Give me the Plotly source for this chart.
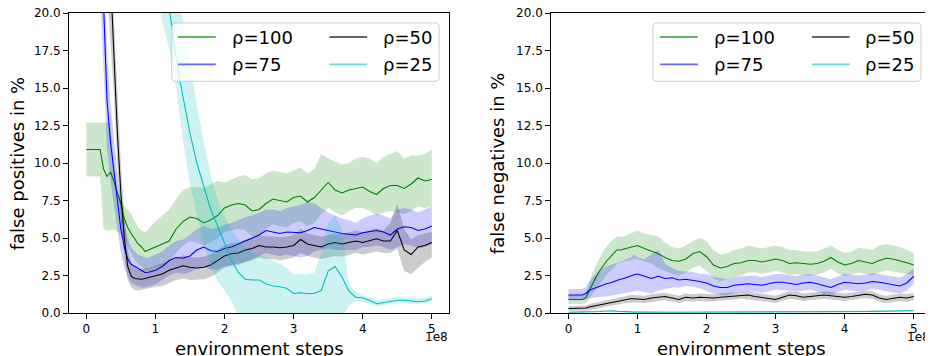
import plotly.graph_objects as go

# environment steps, in units of 1e8
STEPS = [0.0, 0.05, 0.1, 0.15, 0.2, 0.25, 0.3, 0.35, 0.4, 0.45, 0.5, 0.55, 0.6, 0.65, 0.7, 0.75, 0.8, 0.85, 0.9, 0.95, 1.0,
         1.1, 1.2, 1.3, 1.4, 1.5, 1.6, 1.7, 1.8, 1.9, 2.0,
         2.1, 2.2, 2.3, 2.4, 2.5, 2.6, 2.7, 2.8, 2.9, 3.0,
         3.1, 3.2, 3.3, 3.4, 3.5, 3.6, 3.7, 3.8, 3.9, 4.0,
         4.1, 4.2, 4.3, 4.4, 4.5, 4.6, 4.7, 4.8, 4.9, 5.0]

LABELS = ["ρ=100", "ρ=75", "ρ=50", "ρ=25"]
X_TICKS = [0, 1, 2, 3, 4, 5]
Y_TICKS = [0.0, 2.5, 5.0, 7.5, 10.0, 12.5, 15.0, 17.5, 20.0]

# ---------------- false positives (left) ----------------
fp100_mean = [10.9, 10.9, 10.9, 10.9, 10.9, 9.6, 9.1, 9.4, 8.8, 8.0, 7.3, 6.3, 5.7, 5.3, 4.9, 4.6, 4.4, 4.1, 4.2, 4.3, 4.4,
              4.6, 4.8, 5.6, 6.1, 6.4, 6.3, 6.0, 6.2, 6.5, 7.0,
              7.2, 7.3, 7.2, 6.8, 6.9, 7.3, 7.6, 7.5, 7.4, 7.7,
              7.8, 7.4, 7.7, 8.2, 8.7, 8.2, 8.0, 8.2, 8.3, 8.4,
              8.1, 7.9, 8.3, 8.5, 8.5, 8.3, 8.6, 9.0, 8.8, 8.9]
fp100_lo = [9.1, 9.1, 9.1, 9.1, 9.1, 5.6, 5.5, 5.5, 5.6, 5.4, 5.3, 4.9, 4.4, 4.0, 3.6, 3.3, 3.1, 2.9, 2.9, 3.0, 3.1,
            3.2, 3.4, 4.0, 4.5, 4.8, 4.7, 4.5, 4.7, 5.0, 5.4,
            5.5, 5.6, 5.5, 5.1, 5.2, 5.6, 5.9, 5.8, 5.7, 6.0,
            6.1, 5.8, 6.0, 6.6, 7.0, 6.7, 6.5, 6.8, 7.0, 7.0,
            6.8, 6.5, 6.7, 6.8, 6.7, 6.6, 6.8, 7.1, 7.0, 7.1]
fp100_hi = [12.7, 12.7, 12.7, 12.7, 12.7, 12.7, 12.7, 12.7, 10.0, 8.2, 7.5, 7.1, 6.9, 6.6, 6.1, 5.7, 5.5, 5.4, 5.6, 5.9, 6.1,
            6.5, 6.9, 7.6, 8.2, 8.4, 8.4, 8.3, 8.6, 8.8, 8.7,
            8.9, 9.1, 9.2, 8.9, 9.0, 9.3, 9.5, 9.4, 9.3, 9.5,
            9.7, 9.3, 9.6, 10.6, 10.3, 10.1, 9.9, 10.0, 10.3, 10.4,
            10.3, 10.0, 10.4, 10.6, 10.8, 10.3, 10.5, 10.5, 10.6, 10.9]

fp75_mean = [45, 42, 38, 33, 27, 21, 14.2, 11.4, 9.4, 7.3, 5.6, 4.4, 3.6, 3.25, 3.1, 2.95, 2.8, 2.7, 2.72, 2.8, 2.85,
             3.1, 3.5, 3.7, 3.65, 3.8, 4.2, 4.4, 4.15, 4.1, 4.3,
             4.4, 4.6, 4.8, 5.0, 5.2, 5.5, 5.4, 5.3, 5.4, 5.4,
             5.35, 5.5, 5.7, 5.6, 5.5, 5.35, 5.3, 5.25, 5.2, 5.35,
             5.4, 5.5, 5.4, 5.2, 5.6, 5.75, 5.7, 5.5, 5.6, 5.8]
fp75_lo = [42, 39, 35, 30, 24, 18, 11.0, 8.8, 7.3, 5.5, 4.0, 3.0, 2.4, 2.0, 1.9, 1.8, 1.7, 1.7, 1.75, 1.85, 1.9,
           2.2, 2.5, 2.7, 2.6, 2.7, 3.0, 3.1, 2.9, 2.9, 3.1,
           3.2, 3.3, 3.4, 3.6, 3.8, 4.0, 3.9, 3.8, 3.9, 3.8,
           3.7, 3.8, 4.1, 4.2, 4.3, 4.2, 4.2, 4.2, 4.2, 4.4,
           4.4, 4.5, 4.4, 4.2, 4.4, 4.6, 4.5, 4.3, 4.4, 4.6]
fp75_hi = [48, 45, 41, 36, 30, 24, 17.5, 14.0, 11.5, 9.3, 7.4, 6.0, 5.0, 4.4, 4.1, 3.9, 3.8, 3.7, 3.7, 3.8, 3.9,
           4.1, 4.5, 4.8, 4.9, 5.2, 5.6, 5.8, 5.6, 5.7, 5.9,
           6.0, 6.2, 6.4, 6.5, 6.7, 6.9, 6.9, 6.8, 7.0, 7.1,
           7.2, 7.4, 7.3, 7.0, 6.7, 6.5, 6.3, 6.2, 6.0, 6.3,
           6.5, 6.6, 6.5, 6.3, 6.9, 7.0, 6.9, 6.7, 6.9, 7.1]

fp50_mean = [45, 43, 40, 36, 32, 29, 27, 22.5, 17.0, 12.0, 8.0, 5.0, 3.1, 2.45, 2.3, 2.25, 2.25, 2.3, 2.35, 2.4, 2.45,
             2.6, 2.85, 3.0, 3.15, 3.05, 3.0, 3.05, 3.2, 3.5, 3.8,
             3.95, 4.0, 4.2, 4.3, 4.5, 4.4, 4.4, 4.35, 4.4, 4.5,
             4.9, 4.6, 4.5, 4.4, 4.6, 4.7, 4.6, 4.7, 4.8, 4.7,
             4.8, 4.95, 4.8, 4.8, 5.5, 4.2, 3.9, 4.4, 4.5, 4.7]
fp50_lo = [43, 41, 38, 34, 30, 27, 24, 19.5, 14.5, 9.8, 6.2, 3.8, 2.2, 1.7, 1.55, 1.5, 1.5, 1.6, 1.65, 1.7, 1.75,
           1.8, 2.0, 2.2, 2.3, 2.2, 2.2, 2.25, 2.4, 2.7, 3.0,
           3.15, 3.2, 3.4, 3.5, 3.7, 3.6, 3.6, 3.5, 3.6, 3.7,
           4.0, 3.8, 3.7, 3.6, 3.7, 3.8, 3.75, 3.9, 4.0, 3.9,
           4.0, 4.1, 4.0, 4.0, 4.3, 2.8, 2.6, 3.0, 3.4, 3.7]
fp50_hi = [47, 45, 42, 38, 34, 31, 30, 25.5, 19.5, 14.2, 10.0, 6.5, 4.2, 3.3, 3.0, 2.9, 2.9, 2.95, 3.0, 3.1, 3.15,
           3.3, 3.5, 3.7, 3.85, 3.75, 3.7, 3.75, 3.9, 4.2, 4.5,
           4.65, 4.7, 4.9, 5.0, 5.2, 5.1, 5.1, 5.05, 5.1, 5.2,
           5.6, 5.3, 5.2, 5.1, 5.2, 5.3, 5.25, 5.4, 5.5, 5.4,
           5.5, 5.65, 5.5, 6.0, 7.3, 5.6, 4.9, 5.2, 5.3, 5.4]

fp25_mean = [48, 47, 46, 45, 44, 43, 42, 41, 40, 39, 38, 37, 36, 35, 34, 33, 31.5, 30.5, 29, 27.5, 26.0,
             23.5, 20.3, 17.0, 14.4, 12.0, 10.0, 8.4, 6.9, 5.8, 4.6,
             3.5, 2.7, 2.25, 2.2, 2.2, 1.95, 1.8, 1.75, 1.65, 1.3,
             1.35, 1.3, 1.3, 1.5, 2.8, 3.1, 2.4, 1.45, 1.05, 1.0,
             0.85, 0.62, 0.7, 0.8, 0.85, 0.85, 0.82, 0.75, 0.8, 0.95]
fp25_lo = [44, 43, 42, 41, 40, 39, 38, 37, 36, 35, 34, 33, 32, 31, 30, 29, 27.5, 26, 24.5, 23, 21.5,
           19.4, 17.6, 15.0, 11.5, 8.6, 6.5, 4.7, 3.1, 2.1, 1.5,
           0.8, -0.1, -0.6, -0.8, -0.9, -1.0, -1.0, -1.1, -1.1, -1.2,
           -1.2, -1.2, -1.2, -1.0, -0.6, -0.5, -0.4, 0.5, 0.8, 0.75,
           0.65, 0.45, 0.5, 0.6, 0.65, 0.65, 0.65, 0.6, 0.65, 0.8]
fp25_hi = [52, 51, 50, 49, 48, 47, 46, 45, 44, 43, 42, 41, 40, 39, 38, 37, 35.5, 34, 33, 31.8, 30.5,
           28.0, 25.5, 22.5, 19.5, 16.5, 13.8, 11.4, 9.2, 7.6, 6.5,
           5.6, 4.9, 4.3, 4.0, 3.9, 3.7, 3.5, 3.3, 3.0, 2.6,
           2.6, 2.6, 2.7, 4.0, 6.0, 6.5, 5.5, 2.0, 1.4, 1.2,
           1.05, 0.85, 0.9, 1.0, 1.05, 1.05, 1.0, 0.95, 1.0, 1.15]

# ---------------- false negatives (right) ----------------
fn100_mean = [0.9, 0.9, 0.9, 0.9, 0.9, 1.0, 1.5, 2.0, 2.4, 2.8, 3.15, 3.45, 3.7, 3.95, 4.2, 4.2, 4.25, 4.3, 4.4, 4.45, 4.5,
              4.3, 4.15, 3.95, 3.7, 3.5, 3.45, 3.6, 3.95, 4.1, 3.75,
              3.2, 3.0, 3.1, 3.3, 3.35, 3.5, 3.5, 3.4, 3.5, 3.6,
              3.5, 3.3, 3.35, 3.3, 3.25, 3.3, 3.45, 3.7, 3.4, 3.2,
              3.3, 3.5, 3.4, 3.3, 3.5, 3.65, 3.6, 3.5, 3.35, 3.2]
fn100_lo = [0.6, 0.6, 0.6, 0.6, 0.6, 0.65, 0.9, 1.3, 1.6, 1.9, 2.2, 2.5, 2.8, 3.0, 3.3, 3.35, 3.4, 3.5, 3.55, 3.6, 3.6,
            3.45, 3.3, 3.0, 2.8, 2.6, 2.5, 2.7, 3.0, 3.15, 2.8,
            2.3, 2.1, 2.25, 2.4, 2.5, 2.7, 2.7, 2.6, 2.7, 2.8,
            2.7, 2.55, 2.6, 2.5, 2.5, 2.55, 2.7, 2.95, 2.65, 2.45,
            2.55, 2.7, 2.6, 2.5, 2.7, 2.85, 2.8, 2.7, 2.6, 2.5]
fn100_hi = [1.2, 1.2, 1.2, 1.2, 1.2, 1.35, 2.1, 2.7, 3.2, 3.7, 4.1, 4.4, 4.7, 4.9, 5.1, 5.1, 5.1, 5.2, 5.3, 5.4, 5.5,
            5.3, 5.2, 5.1, 4.7, 4.4, 4.3, 4.5, 4.8, 5.0, 4.8,
            4.2, 3.9, 4.0, 4.2, 4.3, 4.5, 4.4, 4.3, 4.4, 4.5,
            4.4, 4.2, 4.2, 4.1, 4.1, 4.1, 4.3, 4.5, 4.2, 4.0,
            4.1, 4.35, 4.3, 4.2, 4.5, 4.6, 4.5, 4.4, 4.2, 4.0]

fn75_mean = [1.2, 1.2, 1.2, 1.2, 1.2, 1.3, 1.5, 1.6, 1.7, 1.75, 1.85, 1.95, 2.0, 2.1, 2.2, 2.25, 2.3, 2.4, 2.5, 2.55, 2.6,
             2.45, 2.3, 2.45, 2.3, 2.35, 2.2, 2.25, 2.2, 2.1, 2.0,
             1.8, 1.7, 1.7, 1.85, 1.9, 1.95, 1.9, 1.85, 1.95, 2.05,
             2.05, 2.0, 1.9, 2.0, 2.05, 1.95, 1.8, 1.7, 1.9, 2.05,
             2.0, 1.95, 2.0, 2.1, 2.05, 1.95, 1.85, 1.8, 2.0, 2.45]
fn75_lo = [0.85, 0.85, 0.85, 0.85, 0.85, 0.9, 1.0, 1.0, 1.05, 1.05, 1.1, 1.1, 1.15, 1.2, 1.2, 1.25, 1.3, 1.35, 1.4, 1.45, 1.5,
           1.4, 1.3, 1.5, 1.6, 1.7, 1.7, 1.8, 1.75, 1.65, 1.5,
           1.3, 1.2, 1.2, 1.35, 1.4, 1.45, 1.4, 1.35, 1.45, 1.55,
           1.55, 1.5, 1.4, 1.5, 1.55, 1.45, 1.3, 1.2, 1.4, 1.55,
           1.5, 1.45, 1.5, 1.6, 1.55, 1.45, 1.35, 1.3, 1.5, 1.95]
fn75_hi = [1.6, 1.6, 1.6, 1.6, 1.6, 1.7, 2.1, 2.4, 2.6, 2.8, 3.0, 3.1, 3.2, 3.3, 3.35, 3.4, 3.5, 3.6, 3.7, 3.9, 3.7,
           3.6, 3.9, 4.2, 3.3, 3.0, 2.8, 2.8, 2.75, 2.6, 2.6,
           2.4, 2.3, 2.25, 2.4, 2.45, 2.5, 2.5, 2.4, 2.5, 2.6,
           2.6, 2.55, 2.45, 2.55, 2.6, 2.5, 2.35, 2.25, 2.45, 2.6,
           2.55, 2.5, 2.55, 2.65, 2.6, 2.5, 2.4, 2.35, 2.6, 3.0]

fn50_mean = [0.3, 0.3, 0.3, 0.3, 0.3, 0.33, 0.4, 0.45, 0.5, 0.55, 0.6, 0.65, 0.7, 0.75, 0.8, 0.85, 0.9, 0.95, 0.95, 0.95, 0.95,
             0.9, 1.0, 1.05, 1.1, 1.0, 0.9, 1.05, 1.0, 1.05, 1.0,
             1.0, 1.05, 1.1, 1.15, 1.2, 1.2, 1.1, 1.05, 1.0, 0.9,
             1.05, 1.2, 1.15, 1.05, 1.1, 1.15, 1.2, 1.15, 1.1, 1.05,
             1.1, 1.2, 1.25, 1.2, 1.0, 0.9, 1.0, 1.05, 1.0, 1.1]
fn50_lo = [0.15, 0.15, 0.15, 0.15, 0.15, 0.15, 0.2, 0.25, 0.3, 0.35, 0.4, 0.45, 0.5, 0.5, 0.55, 0.6, 0.65, 0.7, 0.7, 0.7, 0.7,
           0.65, 0.75, 0.8, 0.85, 0.75, 0.65, 0.8, 0.75, 0.8, 0.75,
           0.75, 0.8, 0.85, 0.9, 0.95, 0.95, 0.85, 0.8, 0.75, 0.65,
           0.8, 0.95, 0.9, 0.8, 0.85, 0.9, 0.95, 0.9, 0.85, 0.8,
           0.85, 0.95, 1.0, 0.95, 0.75, 0.65, 0.75, 0.8, 0.75, 0.85]
fn50_hi = [0.45, 0.45, 0.45, 0.45, 0.45, 0.5, 0.6, 0.65, 0.7, 0.75, 0.8, 0.85, 0.9, 1.0, 1.05, 1.1, 1.15, 1.2, 1.2, 1.2, 1.2,
           1.15, 1.25, 1.3, 1.35, 1.25, 1.15, 1.3, 1.25, 1.3, 1.25,
           1.25, 1.3, 1.35, 1.4, 1.45, 1.45, 1.35, 1.3, 1.25, 1.15,
           1.3, 1.45, 1.4, 1.3, 1.35, 1.4, 1.45, 1.4, 1.35, 1.3,
           1.35, 1.45, 1.5, 1.45, 1.25, 1.15, 1.25, 1.3, 1.25, 1.35]

fn25_mean = [0.05, 0.05, 0.05, 0.05, 0.05, 0.05, 0.06, 0.07, 0.08, 0.1, 0.12, 0.14, 0.15, 0.15, 0.12, 0.1, 0.08, 0.07, 0.06, 0.06, 0.06,
             0.05, 0.05, 0.05, 0.05, 0.05, 0.05, 0.05, 0.05, 0.05, 0.05,
             0.07, 0.08, 0.08, 0.09, 0.1, 0.1, 0.09, 0.08, 0.08, 0.08,
             0.08, 0.07, 0.07, 0.08, 0.08, 0.09, 0.09, 0.1, 0.1, 0.1,
             0.1, 0.1, 0.1, 0.11, 0.11, 0.12, 0.12, 0.13, 0.14, 0.15]
fn25_lo = [0.0, 0.0, 0.0, 0.0, 0.0, 0.0, 0.01, 0.02, 0.03, 0.05, 0.07, 0.09, 0.1, 0.1, 0.07, 0.05, 0.03, 0.02, 0.01, 0.01, 0.01,
           0.0, 0.0, 0.0, 0.0, 0.0, 0.0, 0.0, 0.0, 0.0, 0.0,
           0.02, 0.03, 0.03, 0.04, 0.05, 0.05, 0.04, 0.03, 0.03, 0.03,
           0.03, 0.02, 0.02, 0.03, 0.03, 0.04, 0.04, 0.05, 0.05, 0.05,
           0.05, 0.05, 0.05, 0.06, 0.06, 0.07, 0.07, 0.08, 0.09, 0.1]
fn25_hi = [0.1, 0.1, 0.1, 0.1, 0.1, 0.1, 0.11, 0.12, 0.13, 0.15, 0.17, 0.19, 0.2, 0.2, 0.17, 0.15, 0.13, 0.12, 0.11, 0.11, 0.11,
           0.1, 0.1, 0.1, 0.1, 0.1, 0.1, 0.1, 0.1, 0.1, 0.1,
           0.12, 0.13, 0.13, 0.14, 0.15, 0.15, 0.14, 0.13, 0.13, 0.13,
           0.13, 0.12, 0.12, 0.13, 0.13, 0.14, 0.14, 0.15, 0.15, 0.15,
           0.15, 0.15, 0.15, 0.16, 0.16, 0.17, 0.17, 0.18, 0.19, 0.2]

COLORS = [(0, 128, 0), (0, 0, 255), (0, 0, 0), (0, 191, 191)]

# ---------------- layout geometry ----------------
# The page body has an 8 px margin, so the figure itself starts at (8, 8) of the page.
OFF = 8
W, H = 933 - OFF, 356 - OFF
ML, MR, MT, MB = 69 - OFF, 2.3, 12.7 - OFF, 43.3
PW = W - ML - MR
PH = H - MT - MB


def px(x):
    # page pixel x -> paper coordinate
    return (x - OFF - ML) / PW


def py(y):
    # page pixel y -> paper coordinate
    return (H - MB - (y - OFF)) / PH


def rgba(c, a):
    return "rgba(%d,%d,%d,%s)" % (c[0], c[1], c[2], a)


fig = go.Figure()

panels = [
    ("x", "y", [(fp100_mean, fp100_lo, fp100_hi), (fp75_mean, fp75_lo, fp75_hi),
                (fp50_mean, fp50_lo, fp50_hi), (fp25_mean, fp25_lo, fp25_hi)]),
    ("x2", "y2", [(fn100_mean, fn100_lo, fn100_hi), (fn75_mean, fn75_lo, fn75_hi),
                  (fn50_mean, fn50_lo, fn50_hi), (fn25_mean, fn25_lo, fn25_hi)]),
]

for xa, ya, series in panels:
    for (mean, lo, hi), col, lab in zip(series, COLORS, LABELS):
        fig.add_trace(go.Scatter(
            x=STEPS + STEPS[::-1], y=hi + lo[::-1], xaxis=xa, yaxis=ya,
            fill="toself", fillcolor=rgba(col, 0.2), line=dict(width=0),
            mode="lines", showlegend=False, hoverinfo="skip"))
        fig.add_trace(go.Scatter(
            x=STEPS, y=mean, xaxis=xa, yaxis=ya, mode="lines", name=lab,
            line=dict(color=rgba(col, 1), width=1.1), showlegend=False))

FONT = "DejaVu Sans"
axis_common = dict(
    showline=True, linecolor="black", linewidth=1, mirror=True,
    ticks="outside", ticklen=5, tickwidth=1, tickcolor="black",
    showgrid=False, zeroline=False, automargin=False, ticklabeloverflow="allow",
    tickfont=dict(family=FONT, size=12, color="black"),
)

dom_left = [0, px(449)]
dom_right = [px(551), 1]

fig.update_layout(
    template="none",
    width=W, height=H,
    margin=dict(l=ML, r=MR, t=MT, b=MB, pad=0, autoexpand=False),
    paper_bgcolor="white", plot_bgcolor="white",
    font=dict(family=FONT, color="black"),
    xaxis=dict(domain=dom_left, range=[-0.25, 5.25], tickvals=X_TICKS, ticktext=[str(v) for v in X_TICKS],
               anchor="y", **axis_common),
    yaxis=dict(domain=[0, 1], range=[0, 20], tickvals=Y_TICKS, ticktext=["%.1f" % v for v in Y_TICKS],
               anchor="x", **axis_common),
    xaxis2=dict(domain=dom_right, range=[-0.25, 5.25], tickvals=X_TICKS, ticktext=[str(v) for v in X_TICKS],
                anchor="y2", **axis_common),
    yaxis2=dict(domain=[0, 1], range=[0, 20], tickvals=Y_TICKS, ticktext=["%.1f" % v for v in Y_TICKS],
                anchor="x2", **axis_common),
    showlegend=False,
)


def rounded_box(x0, y0, x1, y1, r=4):
    # pixel box -> paper path with rounded corners
    X0, X1 = px(x0), px(x1)
    Y0, Y1 = py(y0), py(y1)
    rx = r / PW
    ry = r / PH
    return ("M %f,%f L %f,%f Q %f,%f %f,%f L %f,%f Q %f,%f %f,%f L %f,%f Q %f,%f %f,%f L %f,%f Q %f,%f %f,%f Z" % (
        X0 + rx, Y0, X1 - rx, Y0, X1, Y0, X1, Y0 - ry,
        X1, Y1 + ry, X1, Y1, X1 - rx, Y1,
        X0 + rx, Y1, X0, Y1, X0, Y1 + ry,
        X0, Y0 - ry, X0, Y0, X0 + rx, Y0))


shapes = []
ann = []
# legend boxes: (box x0, box x1, column-1 line start, column-2 line start)
for (bx0, bx1, c1, c2) in [(171.7, 439, 178, 329.3), (652.7, 920.7, 660, 811.7)]:
    shapes.append(dict(type="path", xref="paper", yref="paper", path=rounded_box(bx0, 22.7, bx1, 81),
                       fillcolor="rgba(255,255,255,0.8)", line=dict(color="rgb(204,204,204)", width=1),
                       layer="above"))
    slots = [(c1, 36.7), (c1, 64.0), (c2, 36.7), (c2, 64.0)]
    for (lx, ly), lab, col in zip(slots, LABELS, COLORS):
        shapes.append(dict(type="line", xref="paper", yref="paper",
                           x0=px(lx), x1=px(lx + 37.7), y0=py(ly), y1=py(ly),
                           line=dict(color=rgba(col, 0.6), width=1.8), layer="above"))
        ann.append(dict(x=px(lx + 51.5), y=py(ly + 0.5), xref="paper", yref="paper", text=lab,
                        showarrow=False, xanchor="left", yanchor="middle",
                        font=dict(family=FONT, size=18, color="black")))
fig.update_layout(shapes=shapes)

for cx, title in [(259, "environment steps"), (741, "environment steps")]:
    ann.append(dict(x=px(cx), y=py(348.5), xref="paper", yref="paper", text=title, showarrow=False,
                    xanchor="center", yanchor="middle", font=dict(family=FONT, size=18, color="black")))
for cx, title in [(17, "false positives in %"), (496.7, "false negatives in %")]:
    ann.append(dict(x=px(cx), y=py(163), xref="paper", yref="paper", text=title, showarrow=False,
                    textangle=-90, xanchor="center", yanchor="middle",
                    font=dict(family=FONT, size=18, color="black")))
for cx in [436, 918]:
    ann.append(dict(x=px(cx), y=py(336.5), xref="paper", yref="paper", text="1e8", showarrow=False,
                    xanchor="center", yanchor="middle", font=dict(family=FONT, size=12, color="black")))
fig.update_layout(annotations=ann)

fig.write_html("out.html")
